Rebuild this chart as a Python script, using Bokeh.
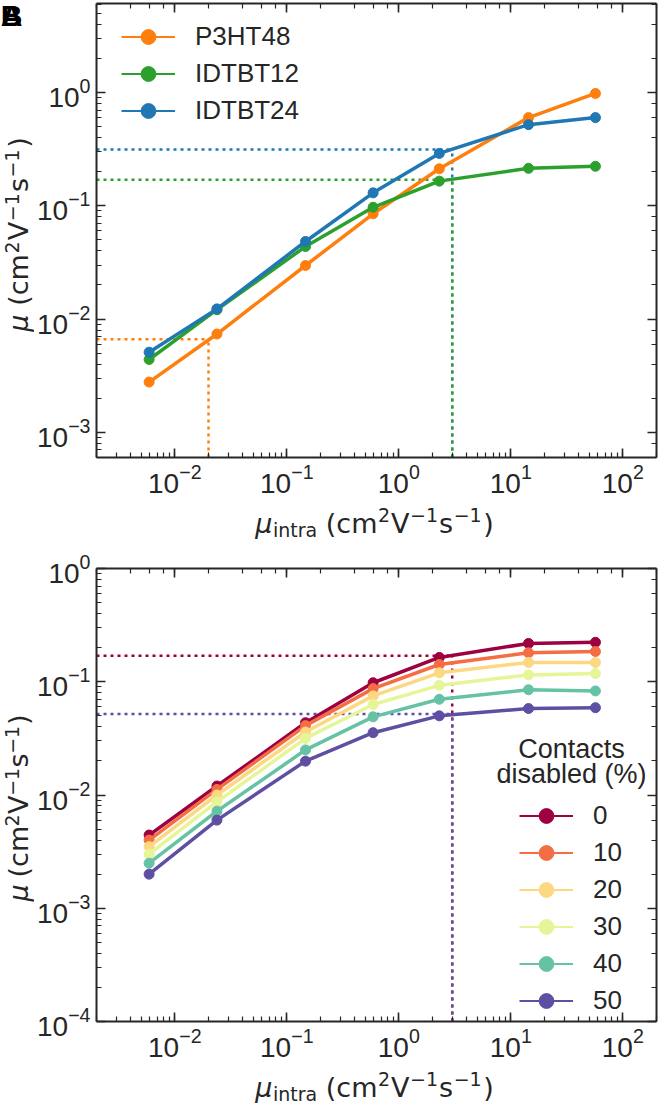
import math
from bokeh.plotting import figure
from bokeh.models import Range1d, LogAxis, Legend, LegendItem, Label, CustomJSTickFormatter
from bokeh.layouts import column, row
from bokeh.embed import file_html
from bokeh.resources import INLINE

# ---------------- data ----------------
mu_intra = [0.0059, 0.0238, 0.147, 0.59, 2.3, 14.4, 57.0]

# panel A
a_names = ["P3HT48", "IDTBT12", "IDTBT24"]
p3ht48 = [0.00278, 0.00738, 0.0297, 0.085, 0.212, 0.60, 0.98]
idtbt12 = [0.0044, 0.0121, 0.0437, 0.097, 0.165, 0.214, 0.223]
idtbt24 = [0.0051, 0.0123, 0.0484, 0.130, 0.29, 0.52, 0.60]
a_colors = ["#ff7f0e", "#2ca02c", "#1f77b4"]

# guide lines panel A (orange, blue, green)
a_guide_x = [0.02, 3.0, 3.0]
a_guide_y = [0.00665, 0.314, 0.17]
a_guide_colors = ["#ff7f0e", "#1f77b4", "#2ca02c"]

# panel B
b_title = ["Contacts", "disabled (%)"]
b_labels = ["0", "10", "20", "30", "40", "50"]
c0 = [0.00443, 0.0120, 0.0435, 0.098, 0.164, 0.218, 0.223]
c10 = [0.0040, 0.0112, 0.041, 0.087, 0.142, 0.180, 0.185]
c20 = [0.0035, 0.0100, 0.036, 0.075, 0.120, 0.148, 0.148]
c30 = [0.0030, 0.0087, 0.0316, 0.063, 0.093, 0.115, 0.118]
c40 = [0.0025, 0.0072, 0.025, 0.049, 0.070, 0.085, 0.083]
c50 = [0.0020, 0.0060, 0.0199, 0.0355, 0.050, 0.058, 0.059]
b_colors = ["#9e0142", "#f46d43", "#fdd882", "#e6f598", "#66c2a5", "#5e4fa2"]

b_guide_x = [3.0, 3.0]
b_guide_y = [0.17, 0.052]
b_guide_colors = ["#9e0142", "#5e4fa2"]

x_lim = (0.002, 200.0)
a_ylim = (6e-4, 6.1)
b_ylim = (1e-4, 1.0)

INK = "#262626"
TICK_FONT = "Liberation Sans"
LABEL_FONT = "DejaVu Sans"

# ---------------- geometry ----------------
LAB_W = 34            # width of the y-label strip
MAIN_W = 625          # main figure width
BL, BR = 58, 3        # borders -> frame 564 px wide
FRAME_W = MAIN_W - BL - BR
HA, A_TOP, A_FH = 500, 3, 454
XLA_H, XLA_BASE = 46, 14
HB, B_TOP, B_FH = 518, 22, 453
XLB_H, XLB_BASE = 42, 10
STRIP_Y0 = 48         # lower bound of the narrow strips' y range

# ---------------- helpers ----------------
W = {"(": 0.390, ")": 0.390, "c": 0.550, "m": 0.974, "2": 0.636, "1": 0.636,
     "V": 0.684, "s": 0.521, "\u2212": 0.838, " ": 0.318, "i": 0.278, "n": 0.634,
     "t": 0.392, "r": 0.411, "a": 0.613, "\u03bc": 0.636}
MID = 0.346   # baseline -> middle of the text box (em), DejaVu Sans
MID_L = 0.347  # same for Liberation Sans


def tw(s, size):
    return sum(W[ch] for ch in s) * size


MAIN, SCR = 27, 19
SUB = -4


def label_pieces(with_sub, sup):
    pcs = [("\u03bc", MAIN, 0, "italic", 0.0)]
    if with_sub:
        pcs.append(("intra", SCR, SUB, "normal", 0.5))
    pcs += [("(cm", MAIN, 0, "normal", 0.318 * MAIN),
            ("2", SCR, sup, "normal", 0.5),
            ("V", MAIN, 0, "normal", 1.0),
            ("\u22121", SCR, sup, "normal", 0.5),
            ("s", MAIN, 0, "normal", 1.0),
            ("\u22121", SCR, sup, "normal", 0.5),
            (")", MAIN, 0, "normal", 1.5)]
    return pcs


def text_fig(w, h, y0=0):
    f = figure(width=w, height=h, x_range=Range1d(0, w), y_range=Range1d(y0, h),
               output_backend="svg", toolbar_location=None, min_border=0,
               x_axis_location=None, y_axis_location=None)
    f.outline_line_color = None
    f.xgrid.visible = False
    f.ygrid.visible = False
    f.background_fill_color = "white"
    f.border_fill_color = "white"
    return f


def add_xlabel(f, cx, base_y):
    # pieces anchored at their centres
    pcs = label_pieces(True, 11)
    total = sum(tw(t, s) + g for t, s, _, _, g in pcs)
    x = cx - total / 2
    for t, s, sh, st, g in pcs:
        x += g
        w = tw(t, s)
        f.add_layout(Label(x=x + w / 2, y=base_y + sh + MID * s, text=t,
                           text_font=LABEL_FONT, text_font_size=f"{s}px", text_font_style=st,
                           text_baseline="middle", text_align="center", text_color=INK))
        x += w


def add_ylabel(f, cy, bx):
    # rotated pieces anchored at their centres (rotation invariant)
    pcs = label_pieces(False, 9)
    total = sum(tw(t, s) + g for t, s, _, _, g in pcs)
    y = cy - total / 2
    for t, s, sh, st, g in pcs:
        y += g
        w = tw(t, s)
        f.add_layout(Label(x=bx - sh - MID * s, y=y + w / 2, text=t, angle=math.pi / 2,
                           text_font=LABEL_FONT, text_font_size=f"{s}px", text_font_style=st,
                           text_baseline="middle", text_align="center", text_color=INK))
        y += w


def style_axis(ax, show_labels):
    ax.axis_line_color = INK
    ax.axis_line_width = 2
    ax.major_tick_line_color = INK
    ax.minor_tick_line_color = INK
    ax.major_tick_line_width = 1.6
    ax.minor_tick_line_width = 1.2
    ax.major_tick_in = 9
    ax.major_tick_out = 0
    ax.minor_tick_in = 5
    ax.minor_tick_out = 0
    ax.major_label_text_font = TICK_FONT
    ax.major_label_text_font_size = "28px"
    ax.major_label_text_color = INK
    ax.major_label_standoff = 6
    if not show_labels:
        ax.formatter = CustomJSTickFormatter(code="return ''")
        ax.major_label_text_font_size = "0px"
        ax.major_label_standoff = 0


def make_fig(height, ylim, border_top, border_bottom):
    p = figure(width=MAIN_W, height=height, x_axis_type="log", y_axis_type="log",
               x_range=Range1d(*x_lim), y_range=Range1d(*ylim),
               output_backend="svg", toolbar_location=None,
               min_border_left=BL, min_border_right=BR,
               min_border_top=border_top, min_border_bottom=border_bottom)
    p.xgrid.visible = False
    p.ygrid.visible = False
    p.outline_line_color = None
    p.background_fill_color = "white"
    p.border_fill_color = "white"
    p.add_layout(LogAxis(), "above")
    p.add_layout(LogAxis(), "right")
    for ax in p.below + p.left:
        style_axis(ax, True)
    for ax in p.above + p.right:
        style_axis(ax, False)
    return p


def add_guides(p, gx, gy, colors, ylim):
    for x, y, c in zip(gx, gy, colors):
        p.segment(x0=[x_lim[0]], y0=[y], x1=[x], y1=[y], line_color=c,
                  line_width=2.5, line_dash="3 4")
        p.segment(x0=[x], y0=[ylim[0]], x1=[x], y1=[y], line_color=c,
                  line_width=2.5, line_dash="3 4")


def add_series(p, ys, colors, labels):
    items = []
    for y, c, lab in zip(ys, colors, labels):
        p.line(mu_intra, y, line_color=c, line_width=3.5)
        p.scatter(mu_intra, y, size=10, fill_color=c, line_color=c)
        # thinner hidden copies that only feed the legend swatches
        hl = p.line(mu_intra, y, line_color=c, line_width=2.2, visible=False)
        hs = p.scatter(mu_intra, y, size=10, fill_color=c, line_color=c, visible=False)
        items.append(LegendItem(label=lab, renderers=[hl, hs]))
    return items


def make_legend(items, loc):
    return Legend(items=items, location=loc, glyph_width=54, glyph_height=37,
                  label_standoff=20, spacing=0, padding=0, margin=0,
                  label_text_font=TICK_FONT, label_text_font_size="26px",
                  label_text_color=INK, border_line_alpha=0, background_fill_alpha=0,
                  inactive_fill_alpha=0)


# ---------------- panel A ----------------
pa = make_fig(HA, a_ylim, A_TOP, HA - A_TOP - A_FH)
add_guides(pa, a_guide_x, a_guide_y, a_guide_colors, a_ylim)
items_a = add_series(pa, [p3ht48, idtbt12, idtbt24], a_colors, a_names)
pa.add_layout(make_legend(items_a, (25, A_FH - 14.5 - 3 * 37)))

ya = text_fig(LAB_W, HA, STRIP_Y0)
add_ylabel(ya, HA - (A_TOP + A_FH / 2), 27.5)
for t in ["A", "B"]:
    ya.add_layout(Label(x=11, y=HA - 12, text=t,
                        text_font=TICK_FONT, text_font_size="30px", text_font_style="bold",
                        text_baseline="middle", text_align="center", text_color="black"))

xa = text_fig(LAB_W + MAIN_W, XLA_H)
add_xlabel(xa, LAB_W + BL + FRAME_W / 2, XLA_BASE)

# ---------------- panel B ----------------
pb = make_fig(HB, b_ylim, B_TOP, HB - B_TOP - B_FH)
add_guides(pb, b_guide_x, b_guide_y, b_guide_colors, b_ylim)
items_b = add_series(pb, [c0, c10, c20, c30, c40, c50], b_colors, b_labels)
pb.add_layout(make_legend(items_b, (423, 2)))
for txt, yy in zip(b_title, [263, 238]):
    pb.add_layout(Label(x=475, y=yy + MID_L * 27, x_units="screen", y_units="screen", text=txt,
                        text_font=TICK_FONT, text_font_size="27px", text_baseline="middle",
                        text_align="center", text_color=INK))

yb = text_fig(LAB_W, HB, STRIP_Y0)
add_ylabel(yb, HB - (B_TOP + B_FH / 2), 27.5)

xb = text_fig(LAB_W + MAIN_W, XLB_H)
add_xlabel(xb, LAB_W + BL + FRAME_W / 2, XLB_BASE)

layout = column(row(ya, pa, spacing=0), xa, row(yb, pb, spacing=0), xb, spacing=0)
open("out.html", "w").write(file_html(layout, INLINE))
